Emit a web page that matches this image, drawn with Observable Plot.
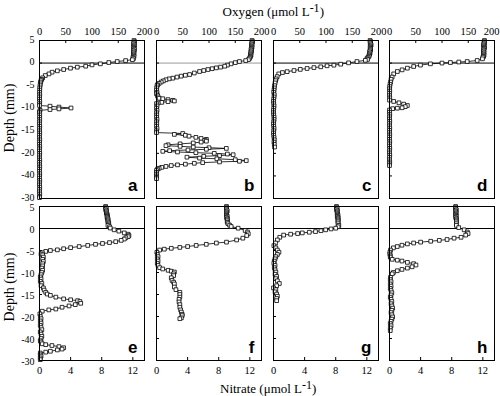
<!DOCTYPE html>
<html><head><meta charset="utf-8">
<script src="https://cdn.jsdelivr.net/npm/d3@7"></script>
<script src="https://cdn.jsdelivr.net/npm/@observablehq/plot@0.6"></script>
<style>
body{margin:0;background:#fff}
#wrap{position:relative;width:500px;height:396px;overflow:hidden;font-family:"Liberation Serif","Times New Roman",serif;color:#000}
.p{position:absolute}
.t{position:absolute;font-size:13px;white-space:nowrap;line-height:1}
.sup{position:relative;top:-4px;font-size:12px}
</style></head><body><div id="wrap"></div>
<script>
// ---- tick values & labels ----
const oxTicks = [0, 50, 100, 150, 200];
const nTicks = [0, 4, 8, 12];
const depthTicks = [5, 0, -5, -10, -15, -20, -25, -30];
const depthTickLabels = ["5", "0", "-5", "-10", "-15", "-20", "-40", "-30"];
const panelLetters = ["a", "b", "c", "d", "e", "f", "g", "h"];

// ---- panel a: oxygen ----
const depA = [5,4.75,4.5,4.25,4,3.75,3.5,3.25,3,2.75,2.5,2.25,2,1.75,1.5,1.25,1,0.75,0.55,0.34,0.12,-0.17,-0.4,-0.69,-0.91,-1.13,-1.43,-1.72,-2.02,-2.4,-2.76,-3.27,-3.6,-3.87,-4.2,-4.6,-5,-5.5,-6,-6.5,-7,-7.5,-8,-8.5,-9,-9.4,-9.55,-9.75,-9.95,-10.15,-10.3,-10.45,-10.8,-11,-11.5,-12,-12.5,-13,-13.5,-14,-14.5,-15,-15.5,-16,-16.5,-17,-17.5,-18,-18.5,-19,-19.5,-20,-20.5,-21,-21.5,-22,-22.5,-23,-23.5,-24,-24.5,-25,-25.5,-26,-26.5,-27,-27.5,-28,-28.5,-29,-29.5,-29.8];
const oxA = [180,181,180,179,181,180,179,180,181,179,180,179,180,179,180,178,179,177,164,148,132,116,100,88,72,59,46,34,24,18,11,6,4,3,2,1.5,1,0.5,0.5,0,0.5,0,0,0.5,0,0,20,37,60,37,20,1,0,0,0.5,0,0.5,0,0,0.5,0,0,0.5,0,0,0.5,0,0,0.5,0,0,0.5,0,0,0.5,0,0,0.5,0,0,0.5,0,0,0.5,0,0,0.5,0,0,0.5,0,0];

// ---- panel b: oxygen ----
const depB = [5,4.75,4.5,4.25,4,3.75,3.5,3.25,3,2.75,2.5,2.25,2,1.75,1.5,1.25,1,0.75,0.55,0.34,0.1,-0.17,-0.45,-0.69,-0.9,-1.06,-1.25,-1.43,-1.65,-1.87,-2.2,-2.54,-2.7,-2.9,-3.1,-3.35,-3.5,-3.7,-3.95,-4.2,-4.5,-4.8,-5,-5.5,-6,-6.5,-6.8,-7.2,-7.5,-7.8,-7.9,-8.1,-8.25,-8.4,-8.55,-8.7,-8.85,-9,-9.5,-10,-10.5,-11,-11.5,-12,-12.5,-13,-13.5,-14,-14.5,-15,-15.4,-15.6,-15.8,-16,-16.2,-16.45,-16.7,-16.9,-17.1,-17.3,-17.5,-17.7,-17.9,-18.1,-18.3,-18.45,-18.6,-18.75,-18.9,-19.1,-19.25,-19.4,-19.55,-19.7,-19.85,-20,-20.15,-20.3,-20.5,-20.65,-20.85,-21.05,-21.2,-21.4,-21.6,-21.75,-21.9,-22.05,-22.2,-22.4,-22.55,-22.7,-22.9,-23.1,-23.3,-23.5,-23.8,-24.2,-24.6,-25,-25.3,-25.6];
const oxB = [182,183,182,181,182,181,182,181,180,181,180,180,179,180,179,178,177,175,170,158,150,142,135,130,122,114,106,98,90,82,72,63,55,47,39,31,24,18,13,9,5,2,1,0.5,0,1,0,2,3,5,12,22,31,34,22,10,3,0,1,0,1,0,0.5,0,1,0,0.5,0,1,0,0,50,34,55,62,75,85,95,92,95,85,70,45,22,18,45,70,100,133,95,60,25,12,40,75,110,135,146,120,90,58,82,115,150,171,158,120,88,72,55,40,28,18,10,5,2,0,0,0,0,0,0];

// ---- panel c: oxygen ----
const depC = [5,4.75,4.5,4.25,4,3.75,3.5,3.25,3,2.75,2.5,2.25,2,1.75,1.5,1.25,1,0.8,0.6,0.34,0.05,-0.25,-0.47,-0.6,-0.83,-1,-1.2,-1.4,-1.65,-1.9,-2.1,-2.4,-3,-3.5,-3.9,-4.4,-5,-5.5,-6,-6.5,-7,-7.5,-8,-8.5,-9,-9.5,-10,-10.5,-11,-11.5,-12,-12.5,-13,-13.5,-14,-14.5,-15,-15.5,-16,-16.5,-17,-17.5,-18,-18.6];
const oxC = [184,185,184,185,186,185,184,185,185,184,183,184,183,182,182,180,178,179,175,159,143,128,115,102,90,77,64,51,39,26,17,10,7,5,4,3,2,1.5,1,0.5,1.5,1,0.5,0,0.5,1,0.5,0,0,0.5,1,1,0.5,0,0.5,1,0.5,0,0.5,1,1.5,1,1.5,2];

// ---- panel d: oxygen ----
const depD = [5,4.75,4.5,4.25,4,3.75,3.5,3.25,3,2.75,2.5,2.25,2,1.75,1.5,1.3,0.94,0.57,0.34,0.23,0.12,0,-0.17,-0.45,-0.76,-1.13,-1.5,-1.87,-2.4,-3.1,-3.6,-4.2,-4.7,-5.2,-5.7,-6.2,-6.7,-7.2,-7.7,-8.2,-8.5,-8.8,-9.1,-9.4,-9.65,-9.9,-10,-10.1,-10.4,-10.9,-11.4,-11.9,-12.4,-12.9,-13.4,-13.9,-14.4,-14.9,-15.4,-15.9,-16.4,-16.9,-17.4,-17.9,-18.4,-18.9,-19.4,-19.9,-20.4,-20.9,-21.4,-21.9,-22.3,-22.7];
const oxD = [181,180,181,180,179,180,181,180,179,180,179,180,179,180,179,178,177,167,148,132,116,100,78,59,46,34,24,15,8,5,3,2,1,0.5,0,0.5,0,0,0.5,0,8,18,27,34,30,24,15,6,0,0,0.5,0,0,0.5,0,0,0.5,0,0,0.5,0,0,0.5,0,0,0.5,0,0,0.5,0,0,0.5,0,0];

// ---- panel e: nitrate ----
const depE = [5,4.75,4.5,4.25,4,3.75,3.5,3.25,3,2.75,2.5,2.25,2,1.75,1.5,1.25,1,0.7,0.4,0.1,-0.3,-0.6,-1,-1.3,-1.6,-1.85,-2.1,-2.4,-2.7,-3,-3.2,-3.4,-3.6,-3.85,-4.1,-4.35,-4.6,-4.85,-5,-5.2,-5.5,-5.8,-6,-6.5,-7,-7.5,-8,-8.5,-9,-9.5,-10,-10.5,-11,-11.5,-12,-12.5,-13,-13.5,-14,-14.5,-14.9,-15.2,-15.6,-16,-16.2,-16.4,-16.6,-17,-17.3,-17.6,-17.9,-18.3,-18.5,-18.8,-19.4,-20,-20.5,-21,-21.5,-22,-22.5,-23,-23.5,-24,-24.5,-25,-25.5,-25.8,-26.2,-26.4,-26.6,-26.85,-27.1,-27.4,-27.6,-27.9,-28.1,-28.3,-28.7,-29,-29.4,-29.8];
const nE = [8.5,8.5,8.6,8.5,8.6,8.6,8.6,8.7,8.7,8.7,8.7,8.8,8.8,8.8,8.8,8.9,8.9,8.8,9.0,9.1,9.6,10.2,10.9,11.4,11.5,11.4,11.1,10.9,10.5,9.8,9.0,8.1,7.2,6.2,5.1,4.0,3.1,2.3,1.4,0.8,0.35,0.2,0.4,0.5,0.4,0.5,0.4,0.4,0.3,0.4,0.3,0.2,0.1,0.2,0.1,0.3,0.2,0.5,0.6,0.8,1.0,1.4,2.1,3.1,4.0,4.9,5.2,5.3,4.6,3.8,2.9,2.1,1.2,0.35,0.05,0.1,0.2,0.1,0.2,0.1,0.2,0.3,0.1,0.2,0.3,0.2,0.1,0.2,0.35,0.8,1.6,2.5,3.1,2.9,2.3,1.4,0.8,0.1,0.1,0.2,0.1,0.1];

// ---- panel f: nitrate ----
const depF = [5,4.75,4.5,4.25,4,3.75,3.5,3.25,3,2.75,2.5,2.25,2,1.75,1.4,1.1,0.75,0.45,0.07,-0.45,-0.8,-1.2,-1.6,-2.2,-2.6,-3.1,-3.3,-3.6,-3.85,-4.1,-4.3,-4.5,-4.7,-4.9,-5.4,-5.9,-6.4,-6.9,-7.4,-7.9,-8.4,-8.9,-9.2,-9.5,-9.7,-9.9,-10.3,-10.7,-11.2,-11.8,-12.2,-12.6,-13.3,-13.9,-14.5,-15,-15.6,-16.1,-16.7,-17.3,-17.9,-18.5,-19,-19.5,-19.8,-20.3,-20.5];
const nF = [9.0,9.0,9.0,9.0,9.1,9.0,9.0,9.0,9.0,9.1,9.0,9.1,9.1,9.1,9.1,9.2,9.4,9.6,10.5,11.4,11.7,11.8,11.6,11.1,10.3,9.0,7.7,6.4,5.1,4.0,3.0,1.9,1.0,0.4,0.05,0.1,0.2,0.1,0.2,0.1,0.2,0.4,0.8,1.5,1.9,2.3,2.2,2.2,1.9,2.0,2.2,2.3,2.3,2.5,3.0,3.0,3.0,2.9,2.9,3.0,3.0,3.1,3.2,3.3,3.3,3.2,3.0];

// ---- panel g: nitrate ----
const depG = [5,4.75,4.5,4.25,4,3.75,3.5,3.25,3,2.75,2.5,2.25,2,1.75,1.5,1.1,0.7,0.4,0.07,-0.1,-0.3,-0.5,-0.7,-0.85,-1,-1.15,-1.3,-1.5,-2,-2.6,-3.3,-3.9,-4.4,-4.9,-5.4,-5.9,-6.4,-6.9,-7.4,-7.9,-8.4,-8.9,-9.4,-9.9,-10.4,-10.9,-11.4,-11.9,-12.5,-13,-13.5,-13.9,-14.4,-14.9,-15.4,-15.9,-16.4];
const nG = [8.1,8.1,8.2,8.1,8.2,8.2,8.2,8.2,8.3,8.2,8.3,8.3,8.3,8.3,8.3,8.3,8.4,8.3,8.0,7.4,6.7,6.1,5.4,4.6,3.7,3.1,2.2,1.3,0.8,0.5,0.26,0.05,0.3,0.5,0.7,0.5,0.3,0.2,0.1,0.05,0.2,0.1,0.2,0.3,0.2,0.4,0.3,0.5,0.75,0.4,0,0.3,0.2,0.4,0.5,0.4,0.4];

// ---- panel h: nitrate ----
const depH = [5,4.75,4.5,4.25,4,3.75,3.5,3.25,3,2.75,2.5,2.25,2,1.75,1.5,1.1,0.7,0.2,-0.3,-0.8,-1.15,-1.5,-2,-2.2,-2.5,-2.7,-2.9,-3.1,-3.3,-3.5,-3.8,-4.1,-4.4,-4.9,-5.4,-5.8,-6.2,-6.5,-7,-7.2,-7.4,-7.7,-8,-8.3,-8.7,-9,-9.3,-9.6,-10,-10.3,-11.1,-11.6,-12.1,-12.6,-13.1,-13.6,-14.1,-14.6,-15.1,-15.6,-16.1,-16.6,-17.1,-17.6,-18.1,-18.6,-19.1,-19.6,-20.1,-20.6,-21.1,-21.6,-22.1,-22.6,-23.2];
const nH = [8.5,8.5,8.5,8.6,8.5,8.5,8.6,8.5,8.5,8.6,8.5,8.6,8.6,8.6,8.6,8.6,8.6,8.9,9.6,10.0,10.1,9.8,9.2,8.3,7.4,6.4,5.3,4.0,3.1,2.3,1.6,1.0,0.5,0.13,0.05,0.05,0.1,0.1,0.35,1.0,1.6,2.3,3.1,3.4,2.9,2.3,1.6,1.0,0.5,0.35,0.13,0.1,0.2,0.1,0.2,0.1,0.2,0.3,0.2,0.1,0.2,0.3,0.2,0.3,0.4,0.3,0.2,0.3,0.4,0.3,0.2,0.1,0.2,0.1,0.1];

const depths = [depA, depB, depC, depD, depE, depF, depG, depH];
const values = [oxA, oxB, oxC, oxD, nE, nF, nG, nH];

const wrap = document.getElementById("wrap");
const panelX = [39, 156, 273, 389];
const W = 105;
const serif = '"Liberation Serif", "Times New Roman", serif';

function makePanel(i) {
  const top = i < 4, col = i % 4;
  const H = top ? 158 : 154;
  const mL = 39, mR = 4, mT = top ? 40 : 26, mB = top ? 4 : 30;
  const data = depths[i].map((d, k) => ({d, v: values[i][k]}));
  const ticks = top ? oxTicks : nTicks;
  const lastEdge = i === 3; // rightmost top panel: keep its last label inside the page
  const axisOpts = {anchor: top ? "top" : "bottom", tickSize: 0, tickPadding: 6, label: null, fontFamily: serif, fontSize: 10.5};
  const marks = [
    Plot.ruleY([0], {stroke: i === 1 ? "#999" : "#000", strokeWidth: 1}),
    Plot.tickY(depthTicks, {y: d => d, stroke: "#000", insetRight: W - 3}),
    Plot.tickX(ticks, top ? {x: d => d, stroke: "#000", insetBottom: H - 3} : {x: d => d, stroke: "#000", insetTop: H - 3}),
    Plot.line(data, {x: "v", y: "d", stroke: "#000", strokeWidth: 0.8}),
    Plot.dot(data, {x: "v", y: "d", symbol: "square", r: 2.1, fill: "#fff", stroke: "#000", strokeWidth: 0.8}),
    Plot.frame({stroke: "#000", strokeWidth: 1}),
    Plot.axisX(lastEdge ? ticks.slice(0, -1) : ticks, axisOpts),
    Plot.text([panelLetters[i]], {text: d => d, frameAnchor: "bottom-right", dx: -7, dy: -8,
      fontFamily: '"Liberation Sans", Arial, sans-serif', fontWeight: "bold", fontSize: 17, fill: "#000"})
  ];
  if (lastEdge) marks.push(Plot.axisX(ticks.slice(-1), {...axisOpts, textAnchor: "end", dx: 5}));
  if (col === 0) marks.push(Plot.axisY(depthTicks, {anchor: "left", tickSize: 0, tickPadding: 5, label: null,
    fontFamily: serif, fontSize: 10, dy: top ? -1 : 1,
    tickFormat: d => depthTickLabels[depthTicks.indexOf(d)]}));
  const svg = Plot.plot({
    width: mL + W + mR, height: mT + H + mB,
    marginLeft: mL, marginRight: mR, marginTop: mT, marginBottom: mB,
    x: {domain: top ? [0, 200] : [0, 13.5], label: null},
    y: {domain: [-30, 5], label: null, axis: col === 0 ? undefined : null},
    style: {background: "transparent", fontFamily: serif, fontSize: "10.5px", color: "#000", overflow: "visible"},
    marks
  });
  svg.classList.add("p");
  svg.style.left = (panelX[col] - mL) + "px";
  svg.style.top = (top ? 0 : 180) + "px";
  wrap.appendChild(svg);
}
for (let i = 0; i < 8; i++) makePanel(i);

function addText(html, x, y, rot) {
  const el = document.createElement("div");
  el.className = "t";
  el.innerHTML = html;
  if (rot) el.style.fontSize = "14px";
  wrap.appendChild(el);
  const w = el.offsetWidth, h = el.offsetHeight;
  el.style.left = (x - w / 2) + "px";
  el.style.top = (y - h / 2) + "px";
  if (rot) el.style.transform = "rotate(-90deg)";
}
addText('Oxygen (μmol L<span class="sup">-1</span>)', 273, 11);
addText('Nitrate (μmol L<span class="sup">-1</span>)', 268, 388);
addText('Depth (mm)', 10, 118, true);
addText('Depth (mm)', 10, 287, true);
</script></body></html>
